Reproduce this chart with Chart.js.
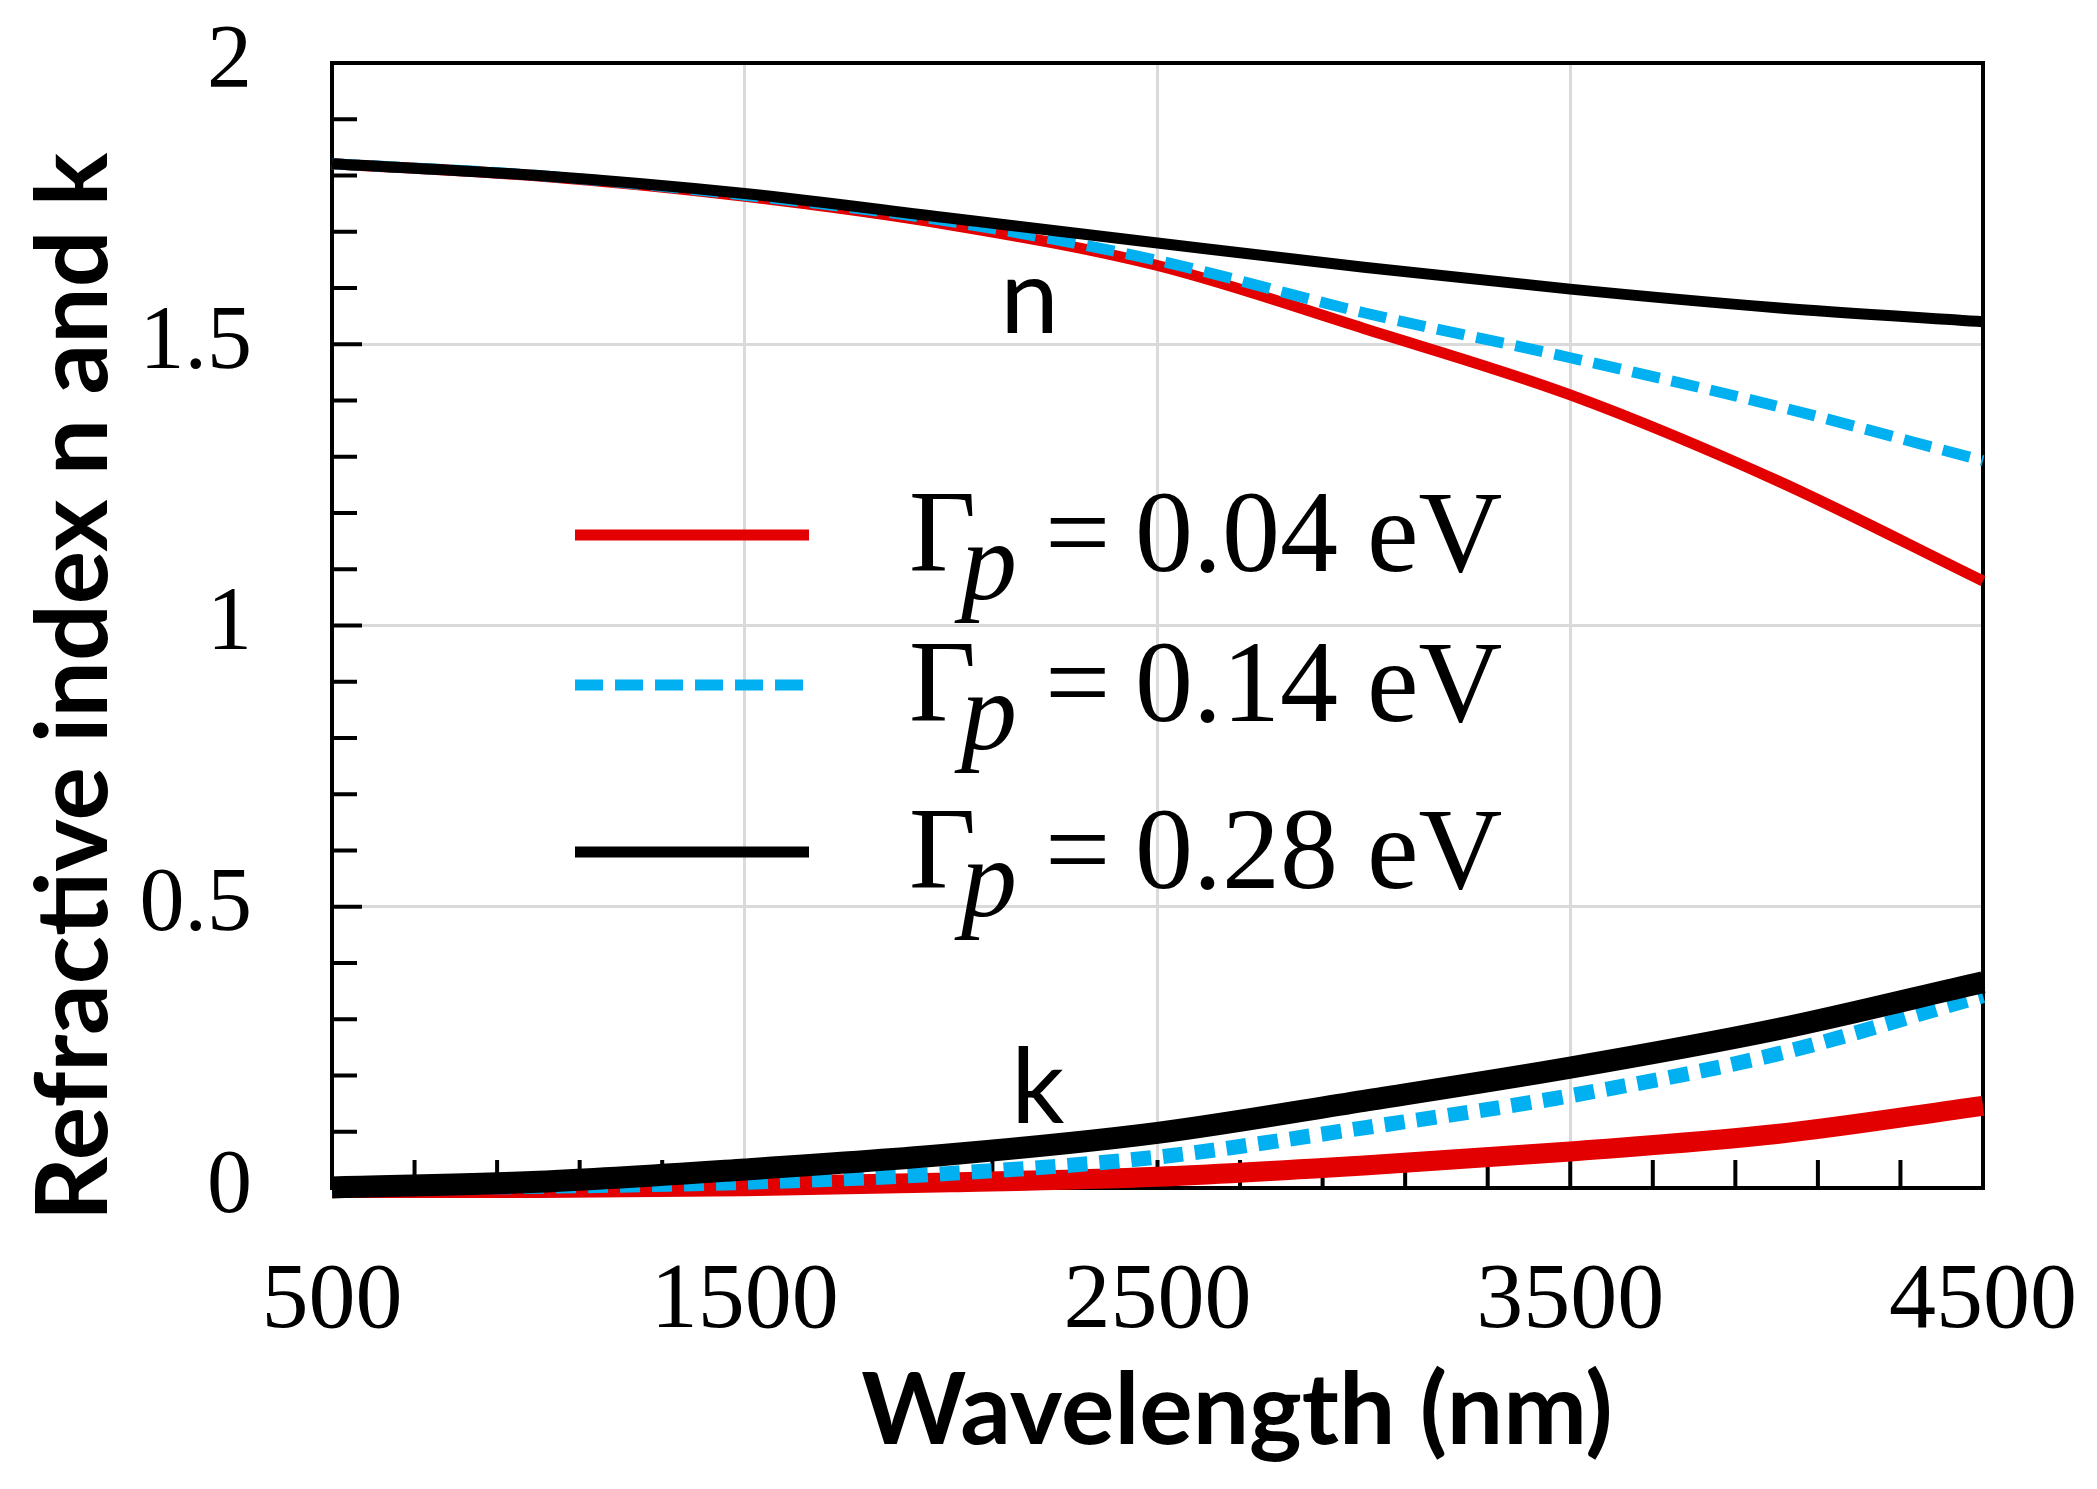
<!DOCTYPE html>
<html>
<head>
<meta charset="utf-8">
<script src="https://cdn.jsdelivr.net/npm/chart.js@4.4.1/dist/chart.umd.min.js"></script>
<style>
  html, body { margin: 0; padding: 0; background: #fff; }
  #wrap { width: 2097px; height: 1489px; position: relative; }
</style>
</head>
<body>
<div id="wrap"><canvas id="chart"></canvas></div>
<script>
// wavelength grid (nm)
const wavelengths = [500, 1000, 1500, 2000, 2500, 3000, 3500, 4000, 4500];

// refractive index n for each damping value
const n004 = [1.821, 1.799, 1.763, 1.712, 1.640, 1.528, 1.410, 1.258, 1.079];
const n014 = [1.821, 1.800, 1.765, 1.718, 1.649, 1.556, 1.476, 1.390, 1.293];
const n028 = [1.821, 1.800, 1.768, 1.724, 1.680, 1.637, 1.598, 1.565, 1.540];

// extinction coefficient k
const k004 = [0.000, 0.000, 0.003, 0.010, 0.020, 0.040, 0.065, 0.096, 0.146];
const k014 = [0.000, 0.003, 0.010, 0.026, 0.055, 0.107, 0.164, 0.238, 0.342];
const k028 = [0.001, 0.011, 0.033, 0.060, 0.098, 0.155, 0.214, 0.282, 0.366];

const gammaLabels = ["0.04", "0.14", "0.28"];
const xTicks = [500, 1500, 2500, 3500, 4500];
const yTicks = [0, 0.5, 1, 1.5, 2];

const RED = "#e30000";
const CYAN = "#00b0f0";
const BLACK = "#000000";

const pts = (vals) => wavelengths.map((w, i) => ({ x: w, y: vals[i] }));

function line(label, vals, color, width, dash) {
  return {
    label: label,
    data: pts(vals),
    borderColor: color,
    backgroundColor: color,
    borderWidth: width,
    borderDash: dash || [],
    pointRadius: 0,
    cubicInterpolationMode: "monotone",
    fill: false,
    clip: false
  };
}

// black on top, red at the bottom
const datasets = [
  line("n 0.28", n028, BLACK, 11),
  line("k 0.28", k028, BLACK, 22),
  line("n 0.14", n014, CYAN, 11, [28, 12]),
  line("k 0.14", k014, CYAN, 15, [20, 12]),
  line("n 0.04", n004, RED, 11),
  line("k 0.04", k004, RED, 20)
];

const legendRows = [
  { color: RED, dash: [] },
  { color: CYAN, dash: [28, 12] },
  { color: BLACK, dash: [] }
];

const decor = {
  id: "decor",
  beforeDatasetsDraw(chart) {
    const { ctx, chartArea: a, scales: { x, y } } = chart;
    ctx.save();
    ctx.strokeStyle = "#000";
    ctx.lineWidth = 4;
    ctx.beginPath();
    // inward minor ticks on the y axis, every 0.1
    for (let i = 1; i < 20; i++) {
      const py = y.getPixelForValue(i / 10);
      const len = i % 5 === 0 ? 30 : 25;
      ctx.moveTo(a.left, py);
      ctx.lineTo(a.left + len, py);
    }
    // inward ticks on the x axis, every 200 nm
    for (let w = 700; w < 4500; w += 200) {
      const px = x.getPixelForValue(w);
      ctx.moveTo(px, a.bottom);
      ctx.lineTo(px, a.bottom - 28);
    }
    ctx.stroke();
    ctx.strokeRect(a.left, a.top, a.width, a.height);
    ctx.restore();
  },
  afterDraw(chart) {
    const { ctx, scales: { x, y } } = chart;
    ctx.save();
    ctx.fillStyle = "#000";

    // axis titles
    ctx.font = "bold 100px Lato";
    ctx.textAlign = "center";
    ctx.textBaseline = "alphabetic";
    ctx.fillText("Wavelength (nm)", 1237, 1444);
    ctx.save();
    ctx.translate(107, 687);
    ctx.rotate(-Math.PI / 2);
    ctx.fillText("Refractive index n and k", 0, 0);
    ctx.restore();

    // curve labels
    ctx.font = "105px Lato";
    ctx.fillText("n", x.getPixelForValue(2190), y.getPixelForValue(1.52));
    ctx.fillText("k", x.getPixelForValue(2210), y.getPixelForValue(0.116));

    // legend
    ctx.textAlign = "left";
    const rowY = [535, 685, 852];
    gammaLabels.forEach((g, i) => {
      const py = rowY[i];
      ctx.strokeStyle = legendRows[i].color;
      ctx.lineWidth = 11;
      ctx.setLineDash(legendRows[i].dash);
      ctx.beginPath();
      ctx.moveTo(575, py);
      ctx.lineTo(809, py);
      ctx.stroke();
      ctx.setLineDash([]);

      const tx = 909, base = py + 36;
      ctx.font = "116px 'Liberation Serif'";
      ctx.fillText("\u0393", tx, base);
      ctx.font = "italic 112px 'Liberation Serif'";
      ctx.fillText("p", tx + 52, base + 28);
      ctx.font = "116px 'Liberation Serif'";
      ctx.fillText("=", tx + 136, base);
      ctx.fillText(g + " eV", tx + 226, base);
    });
    ctx.restore();
  }
};

new Chart(document.getElementById("chart"), {
  type: "line",
  data: { datasets: datasets },
  options: {
    responsive: true,
    maintainAspectRatio: false,
    animation: false,
    layout: { padding: { left: 0, right: 114, top: 63, bottom: 0 } },
    plugins: {
      legend: { display: false },
      tooltip: { enabled: false }
    },
    scales: {
      x: {
        type: "linear",
        min: 500,
        max: 4500,
        afterFit: (s) => { s.height = 301; s.paddingLeft = 0; s.paddingRight = 0; },
        afterBuildTicks: (s) => { s.ticks = xTicks.map((v) => ({ value: v })); },
        ticks: {
          callback: (v) => String(v),
          font: { family: "'Liberation Serif'", size: 94 },
          color: "#000",
          padding: 58,
          maxRotation: 0
        },
        grid: { color: "#dadada", lineWidth: 3, drawTicks: false },
        border: { display: false }
      },
      y: {
        min: 0,
        max: 2,
        afterFit: (s) => { s.width = 332; s.paddingTop = 0; s.paddingBottom = 0; },
        afterBuildTicks: (s) => { s.ticks = yTicks.map((v) => ({ value: v })); },
        ticks: {
          callback: (v) => String(v),
          font: { family: "'Liberation Serif'", size: 90 },
          color: "#000",
          padding: 80
        },
        grid: { color: "#dadada", lineWidth: 3, drawTicks: false },
        border: { display: false }
      }
    }
  },
  plugins: [decor]
});
</script>
</body>
</html>
